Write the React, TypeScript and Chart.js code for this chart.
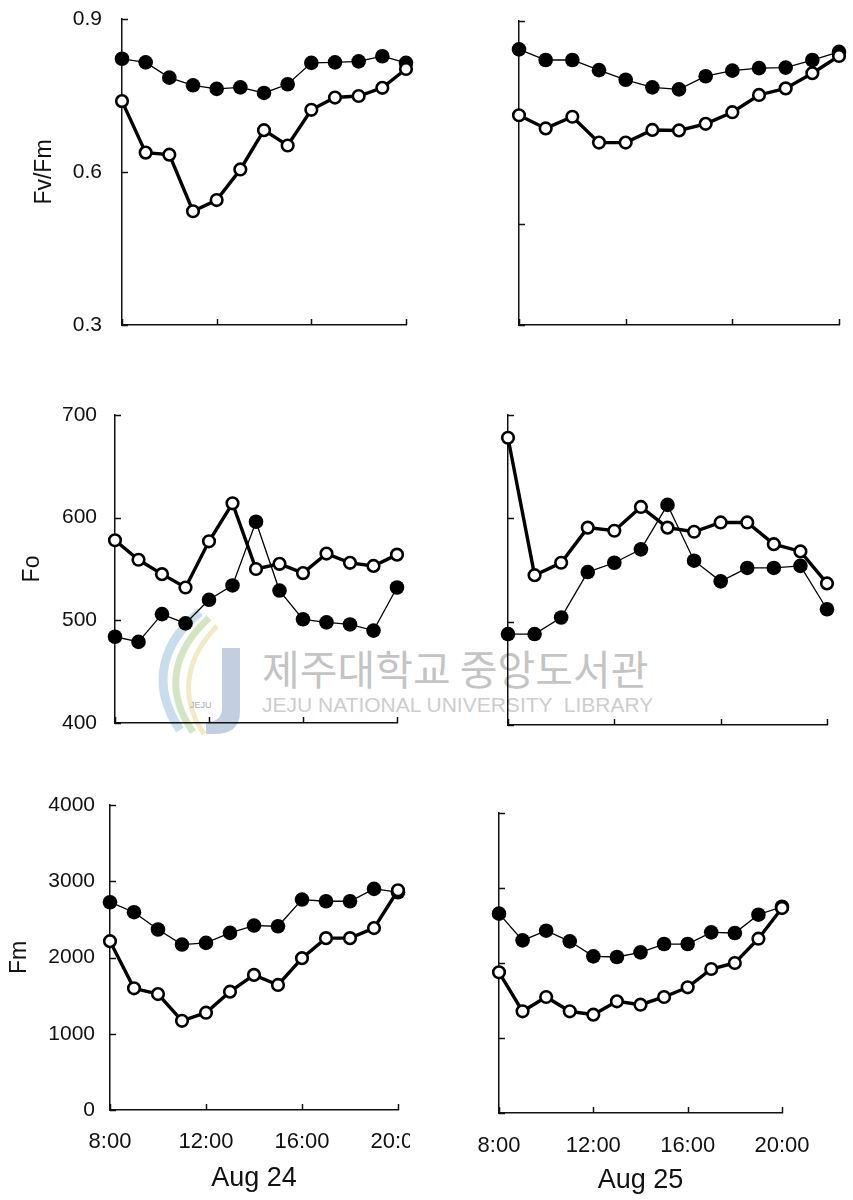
import React, { useEffect, useRef } from "react";
import { Chart, registerables } from "chart.js";

Chart.register(...registerables);
Chart.defaults.font.family = "'Liberation Sans', Arial, Helvetica, sans-serif";
Chart.defaults.color = "#111";

// ---- data ----
const hours = [8, 9, 10, 11, 12, 13, 14, 15, 16, 17, 18, 19, 20];
const timeTicks = [8, 12, 16, 20];
const timeLabels = ["8:00", "12:00", "16:00", "20:00"];

const fvfmTicksLeft = [0.3, 0.6, 0.9];
const fvfmTicksRight = [0.3, 0.5, 0.9];
const fvfmTickLabels = ["0.3", "0.6", "0.9"];
const foTicks = [400, 500, 600, 700];
const foTickLabels = ["400", "500", "600", "700"];
const fmTicks = [0, 1000, 2000, 3000, 4000];
const fmTickLabels = ["0", "1000", "2000", "3000", "4000"];

const fvfmAug24Filled = [0.822, 0.815, 0.785, 0.77, 0.763, 0.766, 0.755, 0.772, 0.814, 0.815, 0.817, 0.827, 0.814];
const fvfmAug24Open = [0.739, 0.638, 0.634, 0.523, 0.545, 0.605, 0.682, 0.652, 0.722, 0.746, 0.749, 0.765, 0.802];
const fvfmAug25Filled = [0.844, 0.823, 0.823, 0.803, 0.784, 0.769, 0.765, 0.791, 0.802, 0.807, 0.808, 0.823, 0.839];
const fvfmAug25Open = [0.714, 0.688, 0.711, 0.66, 0.66, 0.685, 0.684, 0.697, 0.72, 0.754, 0.767, 0.797, 0.831];

const foAug24Filled = [484, 479, 506, 497, 520, 534, 596, 529, 501, 498, 496, 490, 532];
const foAug24Open = [578, 559, 545, 532, 577, 614, 550, 555, 546, 565, 556, 553, 564];
const foAug25Filled = [488, 488, 504, 548, 557, 570, 613, 559, 539, 552, 552, 554, 512];
const foAug25Open = [678, 545, 557, 591, 588, 611, 591, 587, 596, 596, 575, 568, 537];

const fmAug24Filled = [2725, 2594, 2367, 2170, 2192, 2323, 2419, 2410, 2760, 2738, 2738, 2900, 2856];
const fmAug24Open = [2214, 1596, 1520, 1170, 1276, 1552, 1772, 1640, 1991, 2254, 2254, 2386, 2882];
const fmAug25Filled = [2658, 2302, 2431, 2289, 2089, 2080, 2142, 2253, 2253, 2409, 2400, 2644, 2750];
const fmAug25Open = [1876, 1356, 1547, 1356, 1311, 1489, 1444, 1547, 1676, 1920, 2000, 2324, 2733];

// ---- panel layout ----
type PanelCfg = {
  filled: number[];
  open: number[];
  yMin: number;
  yMax: number;
  yTicks: number[];
  yLabels: string[] | null;
  yTickPad: number;
  yTitle: string | null;
  yTitlePad: number;
  xLabels: boolean;
  xTickPad: number;
  xTitle: string | null;
  cx: number;
  cy: number;
  cw: number;
  ch: number;
  clipW?: number;
  yAxisW: number;
  xAxisH: number;
  padTop: number;
  padRight: number;
};

const panels: PanelCfg[] = [
  {
    filled: fvfmAug24Filled, open: fvfmAug24Open, yMin: 0.3, yMax: 0.9,
    yTicks: fvfmTicksLeft, yLabels: fvfmTickLabels, yTickPad: 20, yTitle: "Fv/Fm", yTitlePad: 31,
    xLabels: false, xTickPad: 0, xTitle: null,
    cx: 0, cy: 3, cw: 451, ch: 352, yAxisW: 122, xAxisH: 30, padTop: 16, padRight: 45,
  },
  {
    filled: fvfmAug25Filled, open: fvfmAug25Open, yMin: 0.3, yMax: 0.9,
    yTicks: fvfmTicksRight, yLabels: null, yTickPad: 0, yTitle: null, yTitlePad: 0,
    xLabels: false, xTickPad: 0, xTitle: null,
    cx: 494, cy: 5, cw: 359, ch: 350, yAxisW: 25, xAxisH: 30, padTop: 16, padRight: 14,
  },
  {
    filled: foAug24Filled, open: foAug24Open, yMin: 400, yMax: 700,
    yTicks: foTicks, yLabels: foTickLabels, yTickPad: 18, yTitle: "Fo", yTitlePad: 19,
    xLabels: false, xTickPad: 0, xTitle: null,
    cx: 0, cy: 385, cw: 442, ch: 368, yAxisW: 115, xAxisH: 30, padTop: 30, padRight: 45,
  },
  {
    filled: foAug25Filled, open: foAug25Open, yMin: 400, yMax: 700,
    yTicks: foTicks, yLabels: null, yTickPad: 0, yTitle: null, yTitlePad: 0,
    xLabels: false, xTickPad: 0, xTitle: null,
    cx: 483, cy: 385, cw: 358, ch: 370, yAxisW: 25, xAxisH: 30, padTop: 30, padRight: 14,
  },
  {
    filled: fmAug24Filled, open: fmAug24Open, yMin: 0, yMax: 4000,
    yTicks: fmTicks, yLabels: fmTickLabels, yTickPad: 15, yTitle: "Fm", yTitlePad: 5.5,
    xLabels: true, xTickPad: 19, xTitle: "Aug 24",
    cx: 0, cy: 775, cw: 443, ch: 420, clipW: 410, yAxisW: 110, xAxisH: 85, padTop: 30, padRight: 45,
  },
  {
    filled: fmAug25Filled, open: fmAug25Open, yMin: 0, yMax: 4000,
    yTicks: fmTicks, yLabels: null, yTickPad: 0, yTitle: null, yTitlePad: 0,
    xLabels: true, xTickPad: 20, xTitle: "Aug 25",
    cx: 474, cy: 783, cw: 353, ch: 414, yAxisW: 25, xAxisH: 84, padTop: 30, padRight: 45,
  },
];

const INK = "#111";

const inwardTicks = {
  id: "inwardTicks",
  afterDraw(chart: any) {
    const { ctx } = chart;
    const x = chart.scales.x;
    const y = chart.scales.y;
    ctx.save();
    ctx.strokeStyle = INK;
    ctx.lineWidth = 1.5;
    ctx.beginPath();
    y.ticks.forEach((t: any) => {
      const py = Math.round(y.getPixelForValue(t.value)) + 0.5;
      ctx.moveTo(x.left, py);
      ctx.lineTo(x.left + 6, py);
    });
    x.ticks.forEach((t: any) => {
      const px = Math.round(x.getPixelForValue(t.value)) + 0.5;
      ctx.moveTo(px, y.bottom);
      ctx.lineTo(px, y.bottom - 6);
    });
    ctx.stroke();
    ctx.restore();
  },
};

function Panel({ cfg }: { cfg: PanelCfg }) {
  const ref = useRef<HTMLCanvasElement>(null);
  useEffect(() => {
    if (!ref.current) return;
    const chart = new Chart(ref.current, {
      type: "line",
      data: {
        datasets: [
          {
            data: hours.map((h, i) => ({ x: h, y: cfg.open[i] })),
            borderColor: "#000",
            borderWidth: 3.4,
            pointRadius: 5.8,
            pointBorderWidth: 2.6,
            pointBackgroundColor: "#fff",
            pointBorderColor: "#000",
            tension: 0,
            clip: false,
          },
          {
            data: hours.map((h, i) => ({ x: h, y: cfg.filled[i] })),
            borderColor: "#000",
            borderWidth: 1.3,
            pointRadius: 7.3,
            pointBorderWidth: 0,
            pointBackgroundColor: "#000",
            pointBorderColor: "#000",
            tension: 0,
            clip: false,
          },
        ],
      },
      options: {
        responsive: false,
        animation: false,
        events: [],
        layout: { autoPadding: false, padding: { top: cfg.padTop, right: cfg.padRight, left: 0, bottom: 0 } },
        plugins: { legend: { display: false }, tooltip: { enabled: false } },
        scales: {
          x: {
            type: "linear",
            min: 8,
            max: 20,
            position: "bottom",
            afterBuildTicks: (s: any) => {
              s.ticks = timeTicks.map((v) => ({ value: v }));
            },
            afterFit: (s: any) => {
              s.height = cfg.xAxisH;
              s.paddingLeft = 0;
              s.paddingRight = 0;
              s.paddingTop = 0;
              s.paddingBottom = 0;
            },
            grid: { display: false, drawTicks: false },
            border: { display: true, color: INK, width: 1.5 },
            ticks: {
              display: cfg.xLabels,
              padding: cfg.xTickPad,
              autoSkip: false,
              maxRotation: 0,
              color: INK,
              font: { size: 22 },
              callback: (_v: any, i: number) => timeLabels[i],
            },
            title: {
              display: !!cfg.xTitle,
              text: cfg.xTitle || "",
              color: INK,
              font: { size: 27 },
              padding: 0,
            },
          },
          y: {
            type: "linear",
            min: cfg.yMin,
            max: cfg.yMax,
            position: "left",
            afterBuildTicks: (s: any) => {
              s.ticks = cfg.yTicks.map((v) => ({ value: v }));
            },
            afterFit: (s: any) => {
              s.width = cfg.yAxisW;
              s.paddingLeft = 0;
              s.paddingRight = 0;
              s.paddingTop = 0;
              s.paddingBottom = 0;
            },
            grid: { display: false, drawTicks: false },
            border: { display: true, color: INK, width: 1.5 },
            ticks: {
              display: !!cfg.yLabels,
              padding: cfg.yTickPad,
              color: INK,
              font: { size: 21 },
              callback: (_v: any, i: number) => (cfg.yLabels ? cfg.yLabels[i] : ""),
            },
            title: {
              display: !!cfg.yTitle,
              text: cfg.yTitle || "",
              color: INK,
              font: { size: 23 },
              padding: { top: cfg.yTitlePad, bottom: 0 },
            },
          },
        },
      } as any,
      plugins: [inwardTicks],
    });
    return () => chart.destroy();
  }, [cfg]);
  return (
    <div
      style={{
        position: "absolute",
        left: cfg.cx,
        top: cfg.cy,
        width: cfg.clipW ?? cfg.cw,
        height: cfg.ch,
        overflow: "hidden",
      }}
    >
      <canvas ref={ref} width={cfg.cw} height={cfg.ch} style={{ display: "block" }} />
    </div>
  );
}

function Watermark() {
  return (
    <>
      <svg
        width={853}
        height={1200}
        style={{ position: "absolute", left: 0, top: 0, pointerEvents: "none" }}
      >
        <path d="M200 612 C 165 640, 148 682, 180 730" stroke="#bcd6e8" strokeWidth={9} fill="none" opacity={0.8} />
        <path d="M209 618 C 176 648, 162 688, 193 732" stroke="#c9dfb4" strokeWidth={7} fill="none" opacity={0.8} />
        <path d="M217 626 C 188 656, 177 694, 204 734" stroke="#ece5b8" strokeWidth={5} fill="none" opacity={0.8} />
        <path d="M222 648 L 240 648 L 240 712 Q 240 734 214 734 L 206 734 L 206 722 Q 222 722 222 708 Z" fill="#b9c5da" opacity={0.85} />
        <text x={190} y={708} fontSize={9} fill="#aaa" fontFamily="Liberation Sans">JEJU</text>
      </svg>
      <div
        style={{
          position: "absolute",
          left: 262,
          top: 641,
          fontFamily: "'Noto Sans CJK KR', sans-serif",
          fontSize: 41,
          lineHeight: "52px",
          color: "#c4c4c4",
          whiteSpace: "nowrap",
        }}
      >
        제주대학교 중앙도서관
      </div>
      <div
        style={{
          position: "absolute",
          left: 262,
          top: 693,
          fontFamily: "'Liberation Sans', sans-serif",
          fontSize: 21,
          lineHeight: "24px",
          color: "#cdcdcd",
          whiteSpace: "pre",
        }}
      >
        {"JEJU NATIONAL UNIVERSITY  LIBRARY"}
      </div>
    </>
  );
}

export default function App() {
  return (
    <div style={{ position: "absolute", left: 0, top: 0, width: 853, height: 1200, background: "#fff", overflow: "hidden" }}>
      <Watermark />
      {panels.map((p, i) => (
        <Panel key={i} cfg={p} />
      ))}
    </div>
  );
}
